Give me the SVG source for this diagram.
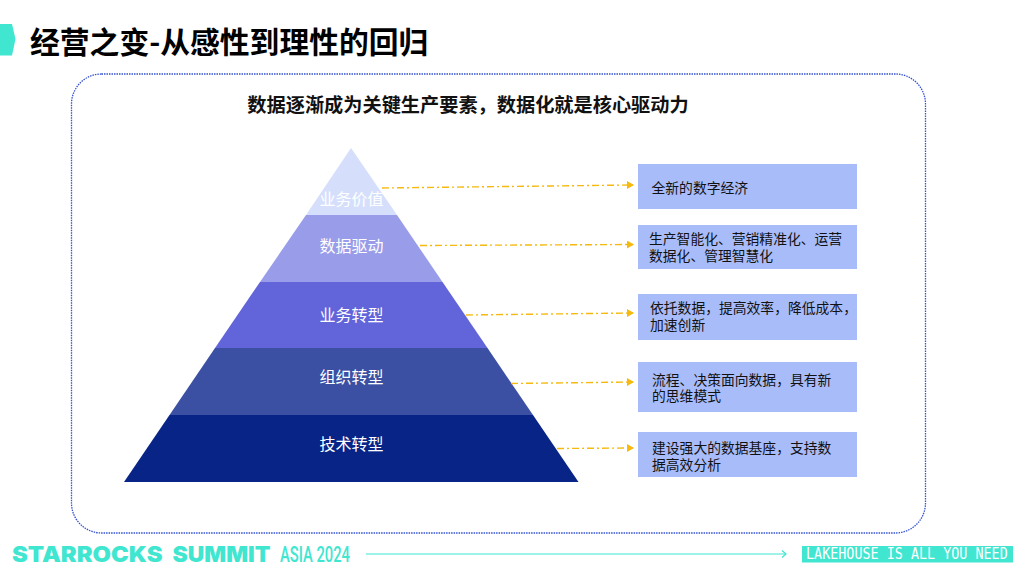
<svg xmlns="http://www.w3.org/2000/svg" width="1024" height="576" viewBox="0 0 1024 576">
<style>
text{font-family:"Noto Sans CJK SC","Liberation Sans",sans-serif}
.tier{font-size:16px;fill:#fff;text-anchor:middle}
.desc{font-size:13.800px;fill:#111}
.box{fill:#a9bcfa}
.conn{stroke:#f5b90f;stroke-width:1.4;stroke-dasharray:7 3 2 3;fill:none;marker-end:url(#ah)}
.brand{fill:#41e6d0;font-size:22px;font-weight:900;font-family:Inter,"Liberation Sans",sans-serif}
</style>
<defs>
<marker id="ah" markerUnits="userSpaceOnUse" markerWidth="7" markerHeight="8" refX="6" refY="4" orient="auto"><path d="M0 0L7 4L0 8Z" fill="#f5b90f"/></marker>
<marker id="tah" markerUnits="userSpaceOnUse" markerWidth="6" markerHeight="8" refX="5" refY="4" orient="auto"><path d="M1 0.5L5 4L1 7.5" fill="none" stroke="#41e6d0" stroke-width="1.2"/></marker>
</defs>
<rect width="1024" height="576" fill="#fff"/>
<g id="header">
<path d="M0 24H12L15.500 39L12 55.500H0Z" fill="#41e6d0"/>
<text x="30" y="53" font-size="29.800" font-weight="700" fill="#000">经营之变-从感性到理性的回归</text>
</g>
<rect id="frame" x="71.500" y="74" width="854" height="459" rx="30" fill="none" stroke="#3552d0" stroke-width="1.300" stroke-dasharray="1.500 1"/>
<text id="subtitle" x="468" y="112" font-size="19.200" font-weight="700" fill="#111" text-anchor="middle">数据逐渐成为关键生产要素，数据化就是核心驱动力</text>
<g id="tier-1"><path d="M351 148L397 215H306Z" fill="#d5dffc"/><text class="tier" x="351.500" y="205">业务价值</text></g>
<g id="tier-2"><path d="M306 215H397L442.500 282H260Z" fill="#999ce8"/><text class="tier" x="351.500" y="252">数据驱动</text></g>
<g id="tier-3"><path d="M260 282H442.500L487.500 348H215Z" fill="#6264da"/><text class="tier" x="351.500" y="321">业务转型</text></g>
<g id="tier-4"><path d="M215 348H487.500L533 415H169.500Z" fill="#3b50a3"/><text class="tier" x="351.500" y="383">组织转型</text></g>
<g id="tier-5"><path d="M169.500 415H533L578.500 482H124Z" fill="#082487"/><text class="tier" x="351.500" y="450">技术转型</text></g>
<g id="connectors">
<path class="conn" d="M382 188L633 185"/>
<path class="conn" d="M420 245.500L633 244.500"/>
<path class="conn" d="M466 315L633 313"/>
<path class="conn" d="M511 383.500L633 382"/>
<path class="conn" d="M557 448.500L633 448"/>
</g>
<g id="desc-1"><rect class="box" x="638" y="164" width="219" height="45"/><text class="desc" x="651.500" y="193">全新的数字经济</text></g>
<g id="desc-2"><rect class="box" x="638" y="225" width="219" height="44"/><text class="desc"><tspan x="649" y="244">生产智能化、营销精准化、运营</tspan><tspan x="649" y="261">数据化、管理智慧化</tspan></text></g>
<g id="desc-3"><rect class="box" x="638" y="294" width="219" height="46"/><text class="desc"><tspan x="650" y="313">依托数据，提高效率，降低成本，</tspan><tspan x="650" y="330">加速创新</tspan></text></g>
<g id="desc-4"><rect class="box" x="638" y="362" width="219" height="50"/><text class="desc"><tspan x="652" y="385">流程、决策面向数据，具有新</tspan><tspan x="652" y="401">的思维模式</tspan></text></g>
<g id="desc-5"><rect class="box" x="638" y="432" width="219" height="45"/><text class="desc"><tspan x="652" y="453">建设强大的数据基座，支持数</tspan><tspan x="652" y="470">据高效分析</tspan></text></g>
<g id="footer">
<text class="brand" x="12" y="561.500" textLength="150.500" lengthAdjust="spacingAndGlyphs">STARROCKS</text>
<text class="brand" x="172.500" y="561.500" textLength="98" lengthAdjust="spacingAndGlyphs">SUMMIT</text>
<text x="280" y="561.500" font-size="22" font-weight="500" fill="#41e6d0" style="font-family:Roboto,'Liberation Sans',sans-serif" textLength="70" lengthAdjust="spacingAndGlyphs">ASIA 2024</text>
<path d="M366 554H786" stroke="#41e6d0" stroke-width="1.200" fill="none" marker-end="url(#tah)"/>
<rect x="802" y="546" width="211" height="16.500" fill="#41e6d0"/>
<text transform="translate(806 559) scale(.865 1)" font-size="15.500" fill="#fff" style="font-family:'DejaVu Sans Mono','Liberation Mono',monospace">LAKEHOUSE IS ALL YOU NEED</text>
</g>
</svg>
